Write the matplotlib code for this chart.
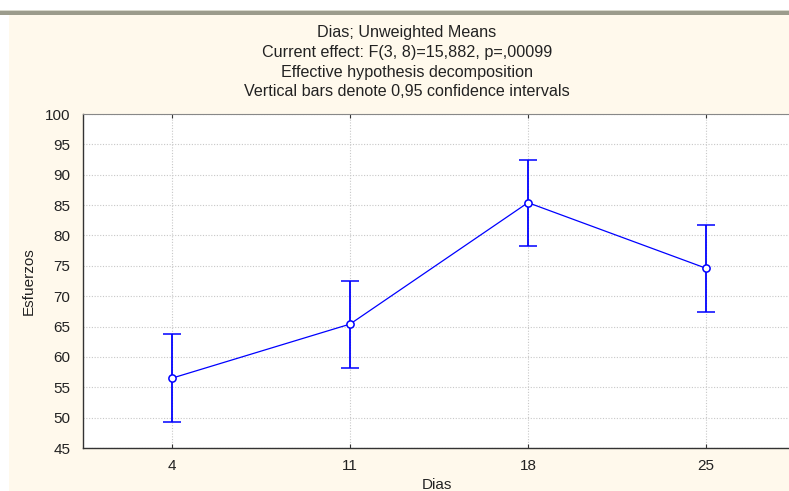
import matplotlib
matplotlib.use("Agg")
import matplotlib.pyplot as plt
from matplotlib.patches import Rectangle

plt.rcParams['font.family'] = ['Liberation Sans', 'DejaVu Sans']

dias = ["4", "11", "18", "25"]
means = [56.5, 65.4, 85.4, 74.6]
ci_low = [49.3, 58.1, 78.2, 67.4]
ci_high = [63.7, 72.5, 92.4, 81.8]
y_ticks = [45, 50, 55, 60, 65, 70, 75, 80, 85, 90, 95, 100]
title_lines = ["Dias; Unweighted Means",
               "Current effect: F(3, 8)=15,882, p=,00099",
               "Effective hypothesis decomposition",
               "Vertical bars denote 0,95 confidence intervals"]

W, H = 789, 491
fig = plt.figure(figsize=(W / 100, H / 100), dpi=100)
fig.patch.set_facecolor('white')

cream = '#FFF9EC'
fig.patches.append(Rectangle((9 / W, 0), 1, 1 - 15 / H, transform=fig.transFigure,
                             facecolor=cream, edgecolor='none', zorder=-2))
fig.patches.append(Rectangle((0, 1 - 15 / H), 1, 5 / H, transform=fig.transFigure,
                             facecolor='#9C9C8C', edgecolor='none', zorder=-2))
fig.patches.append(Rectangle((0, 1 - 11 / H), 1, 1.5 / H, transform=fig.transFigure,
                             facecolor='#D8D8CC', edgecolor='none', zorder=-2))

left, right, top, bottom = 83, 795, 114, 448
ax = fig.add_axes([left / W, 1 - bottom / H, (right - left) / W, (bottom - top) / H])
ax.set_zorder(2)
ax.set_facecolor('white')

x = list(range(len(dias)))
yerr = [[m - l for m, l in zip(means, ci_low)], [h - m for m, h in zip(means, ci_high)]]
ax.errorbar(x, means, yerr=yerr, color='#0000FF', lw=0.9, elinewidth=1.3,
            capsize=6.8, capthick=1.3, marker='o', ms=5.2, mfc='white',
            mec='#0000FF', mew=1.1, zorder=3)

ax.set_xlim(-0.5, 3.5)
ax.set_ylim(45, 100)
ax.set_xticks(x)
ax.set_xticklabels(dias)
ax.set_yticks(y_ticks)
ax.grid(True, color='#C8C8C8', linestyle=(0, (1, 1.5)), lw=0.8)
ax.set_axisbelow(True)
for s in ['left', 'bottom']:
    ax.spines[s].set_color('#333333')
    ax.spines[s].set_linewidth(1.0)
ax.spines['top'].set_color('#888888')
ax.spines['top'].set_linewidth(0.8)
ax.spines['right'].set_visible(False)
ax.tick_params(axis='x', direction='in', length=3, color='#333333', top=True,
               labelsize=11, pad=8, labelcolor='#222222')
ax.tick_params(axis='y', length=0, labelsize=11, pad=9, labelcolor='#222222')

fig.text(437 / W, 1 - 485 / H, "Dias", ha='center', va='center', fontsize=11, color='#222222')
fig.text(29 / W, 1 - 281 / H, "Esfuerzos", ha='center', va='center', rotation=90,
         fontsize=11, color='#222222')

for i, line in enumerate(title_lines):
    fig.text(407 / W, 1 - (32 + 20 * i) / H, line, ha='center', va='center',
             fontsize=11.6, color='#222222')

fig.savefig('out.png', dpi=100, facecolor=fig.get_facecolor())
